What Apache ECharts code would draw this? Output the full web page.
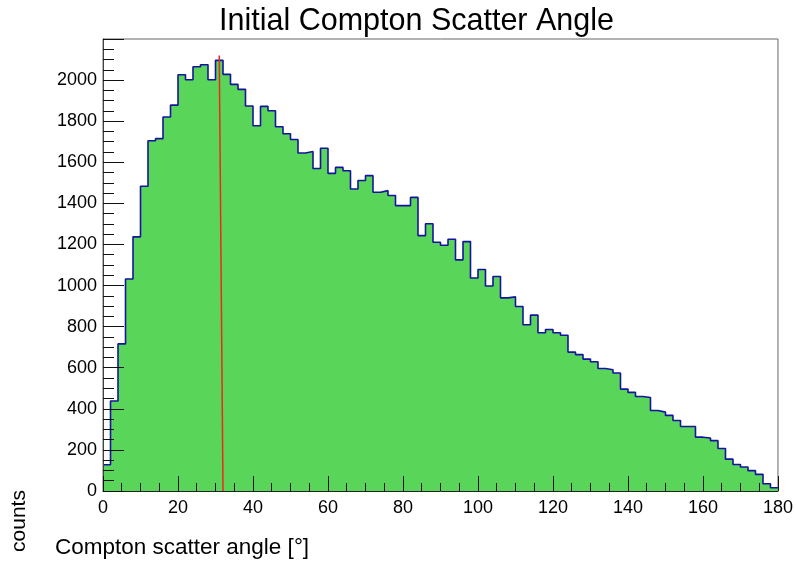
<!DOCTYPE html>
<html>
<head>
<meta charset="utf-8">
<script src="https://cdn.jsdelivr.net/npm/echarts@6/dist/echarts.min.js"></script>
<style>
html,body{margin:0;padding:0;background:#fff;}
#chart{width:796px;height:564px;}
</style>
</head>
<body>
<div id="chart"></div>
<script>
// Histogram: 90 bins of 2 degrees from 0 to 180
const binWidth = 2;
const binCounts = [128,438,716,1032,1237,1483,1705,1715,1820,1878,
  2026,2002,2065,2075,2002,2096,2028,1979,1955,1874,
  1778,1872,1851,1773,1739,1711,1645,1652,1570,1668,
  1546,1575,1559,1470,1511,1535,1454,1462,1438,1389,
  1389,1429,1243,1301,1211,1196,1225,1125,1214,1037,
  1078,998,1044,940,945,898,809,856,770,786,
  770,758,676,664,642,629,596,590,574,496,
  480,460,455,392,384,368,343,314,314,262,
  258,245,207,155,129,117,99,81,35,16];
const markerLineX = [31.0, 32.0];
const markerLineY = [2120, 0];
const xTicks = [0,20,40,60,80,100,120,140,160,180];
const yTicks = [0,200,400,600,800,1000,1200,1400,1600,1800,2000];
const titleText = 'Initial Compton Scatter Angle';
const xTitle = 'Compton scatter angle [°]';
const yTitle = 'counts';

const stepData = binCounts.map((v, i) => [i * binWidth, v]);
stepData.push([binCounts.length * binWidth, binCounts[binCounts.length - 1]]);
const markerData = markerLineX.map((x, i) => [x, markerLineY[i]]);

const chart = echarts.init(document.getElementById('chart'), null, {renderer: 'canvas'});
const font = '"Liberation Sans", Arial, Helvetica, sans-serif';
chart.setOption({
  animation: false,
  backgroundColor: '#ffffff',
  title: {
    text: titleText, left: 214, top: 1,
    textStyle: {fontFamily: font, fontSize: 30.5, fontWeight: 'normal', color: '#000'}
  },
  grid: {left: 103, right: 18, top: 39, bottom: 73, show: true, borderColor: '#666', borderWidth: 1, backgroundColor: 'transparent'},
  xAxis: {
    type: 'value', min: xTicks[0], max: xTicks[xTicks.length - 1], interval: 20, z: 10,
    axisLine: {show: true, onZero: false, lineStyle: {color: '#222', width: 1}},
    axisTick: {show: true, inside: true, length: 15, lineStyle: {color: '#111'}},
    minorTick: {show: true, splitNumber: 4, length: 8, lineStyle: {color: '#111'}},
    splitLine: {show: false},
    axisLabel: {fontFamily: font, fontSize: 18, color: '#000', margin: 8}
  },
  yAxis: {
    type: 'value', min: 0, max: 2200, interval: 200, z: 10,
    axisLine: {show: true, onZero: false, lineStyle: {color: '#444', width: 1}},
    axisTick: {show: true, inside: true, length: 21, lineStyle: {color: '#111'}},
    minorTick: {show: true, splitNumber: 4, length: 11, lineStyle: {color: '#111'}},
    splitLine: {show: false},
    axisLabel: {fontFamily: font, fontSize: 18, color: '#000', margin: 6, showMaxLabel: false,
      formatter: v => (yTicks.indexOf(v) >= 0 ? String(v) : '')}
  },
  graphic: [
    {type: 'text', left: 55, top: 536, style: {text: xTitle, font: '22.5px ' + font, fill: '#000'}},
    {type: 'text', x: 19, y: 521, rotation: Math.PI / 2,
      style: {text: yTitle, font: '21px ' + font, fill: '#000', align: 'center', verticalAlign: 'middle'}}
  ],
  series: [
    {
      type: 'line', data: stepData, step: 'end', symbol: 'none', z: 2,
      lineStyle: {color: '#14149c', width: 1.6},
      areaStyle: {color: '#59d559', opacity: 1}
    },
    {
      type: 'line', data: markerData, symbol: 'none', z: 5,
      lineStyle: {color: '#ee2a1a', width: 1.5}
    }
  ]
});
</script>
</body>
</html>
